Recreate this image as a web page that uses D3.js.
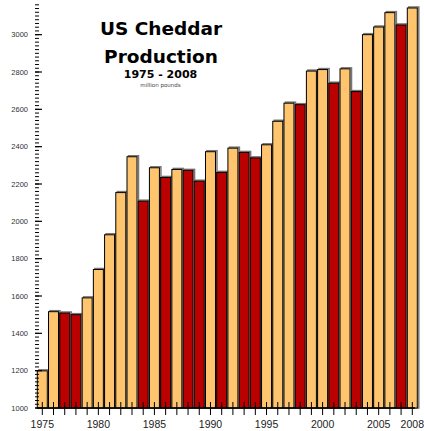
<!DOCTYPE html>
<html>
<head>
<meta charset="utf-8">
<script src="https://cdn.jsdelivr.net/npm/d3@7"></script>
<style>
  body { margin: 0; background: #fff; }
  svg { display: block; }
</style>
</head>
<body>
<div id="chart"></div>
<script>
// production in million pounds
const years = [1975, 1976, 1977, 1978, 1979, 1980, 1981, 1982, 1983, 1984,
  1985, 1986, 1987, 1988, 1989, 1990, 1991, 1992, 1993, 1994,
  1995, 1996, 1997, 1998, 1999, 2000, 2001, 2002, 2003, 2004,
  2005, 2006, 2007, 2008];
const production = [1199, 1516, 1509, 1500, 1590, 1742, 1928, 2154, 2346, 2108,
  2287, 2235, 2278, 2273, 2215, 2373, 2262, 2392, 2369, 2340,
  2410, 2536, 2633, 2625, 2805, 2813, 2740, 2817, 2695, 3000,
  3041, 3118, 3052, 3143];
const yearLabels = [1975, 1980, 1985, 1990, 1995, 2000, 2005, 2008];
const valueTicks = [1000, 1200, 1400, 1600, 1800, 2000, 2200, 2400, 2600, 2800, 3000];

const width = 424;
const height = 431;
const upColor = '#ffc46e';
const downColor = '#bb0000';

const svg = d3.select('#chart')
  .append('svg')
  .attr('width', width)
  .attr('height', height);

const x = d3.scaleLinear()
  .domain([1975, 2008])
  .range([42.3, 412.3]);

const y = d3.scaleLinear()
  .domain([1000, 3160])
  .range([408, 4.8]);

const barW = 10;
const data = years.map((yr, i) => ({
  year: yr,
  value: production[i],
  down: i > 0 && production[i] < production[i - 1]
}));

// bars: grey offset shadow, then the outlined bar
const bars = svg.append('g');
bars.selectAll('rect.shadow')
  .data(data)
  .enter()
  .append('rect')
  .attr('class', 'shadow')
  .attr('x', d => x(d.year) - barW / 2 + 1.5)
  .attr('y', d => y(d.value) - 1)
  .attr('width', barW)
  .attr('height', d => y(1000) - y(d.value) + 1)
  .attr('fill', 'none')
  .attr('stroke', '#777')
  .attr('stroke-width', 1.5);

bars.selectAll('rect.bar')
  .data(data)
  .enter()
  .append('rect')
  .attr('class', 'bar')
  .attr('x', d => x(d.year) - barW / 2)
  .attr('y', d => y(d.value))
  .attr('width', barW)
  .attr('height', d => y(1000) - y(d.value))
  .attr('fill', d => d.down ? downColor : upColor)
  .attr('stroke', '#000')
  .attr('stroke-width', 1);

// left axis: minor ticks every 20, labels every 200
const yAxis = svg.append('g')
  .attr('transform', 'translate(39,0)');

yAxis.selectAll('line.minor')
  .data(d3.range(1000, 3161, 20))
  .enter()
  .append('line')
  .attr('x1', -4)
  .attr('x2', 0)
  .attr('y1', d => y(d))
  .attr('y2', d => y(d))
  .attr('stroke', '#000')
  .attr('stroke-width', 1);

yAxis.selectAll('line.major')
  .data(valueTicks)
  .enter()
  .append('line')
  .attr('x1', -4)
  .attr('x2', 3)
  .attr('y1', d => y(d))
  .attr('y2', d => y(d))
  .attr('stroke', '#000')
  .attr('stroke-width', 1.2);

yAxis.selectAll('text')
  .data(valueTicks)
  .enter()
  .append('text')
  .attr('x', -11)
  .attr('y', d => y(d))
  .attr('dy', '0.35em')
  .attr('text-anchor', 'end')
  .attr('font-family', 'Liberation Sans, Arial, sans-serif')
  .attr('font-size', '7.5px')
  .attr('fill', '#333')
  .text(d => d);

// bottom axis
const xAxis = svg.append('g')
  .attr('transform', 'translate(0,' + y(1000) + ')');

xAxis.append('line')
  .attr('x1', 37)
  .attr('x2', 415)
  .attr('stroke', '#000')
  .attr('stroke-width', 1.5);

xAxis.selectAll('line.tick')
  .data(years)
  .enter()
  .append('line')
  .attr('class', 'tick')
  .attr('x1', d => x(d))
  .attr('x2', d => x(d))
  .attr('y1', -6)
  .attr('y2', 7)
  .attr('stroke', '#000')
  .attr('stroke-width', 1);

xAxis.selectAll('text')
  .data(yearLabels)
  .enter()
  .append('text')
  .attr('x', d => x(d))
  .attr('y', 20)
  .attr('text-anchor', 'middle')
  .attr('font-family', 'Liberation Sans, Arial, sans-serif')
  .attr('font-size', '10.5px')
  .attr('fill', '#222')
  .text(d => d);

// title block
const title = svg.append('g')
  .attr('text-anchor', 'middle')
  .attr('font-family', 'DejaVu Sans, Verdana, sans-serif')
  .attr('font-weight', 'bold');

title.append('text')
  .attr('x', 161)
  .attr('y', 35)
  .attr('font-size', '18.5px')
  .text('US Cheddar');

title.append('text')
  .attr('x', 161)
  .attr('y', 62.5)
  .attr('font-size', '18.5px')
  .text('Production');

title.append('text')
  .attr('x', 160.5)
  .attr('y', 77.5)
  .attr('font-size', '11px')
  .text('1975 - 2008');

title.append('text')
  .attr('x', 160.5)
  .attr('y', 86.5)
  .attr('font-size', '5.5px')
  .attr('font-weight', 'normal')
  .attr('fill', '#444')
  .text('million pounds');
</script>
</body>
</html>
